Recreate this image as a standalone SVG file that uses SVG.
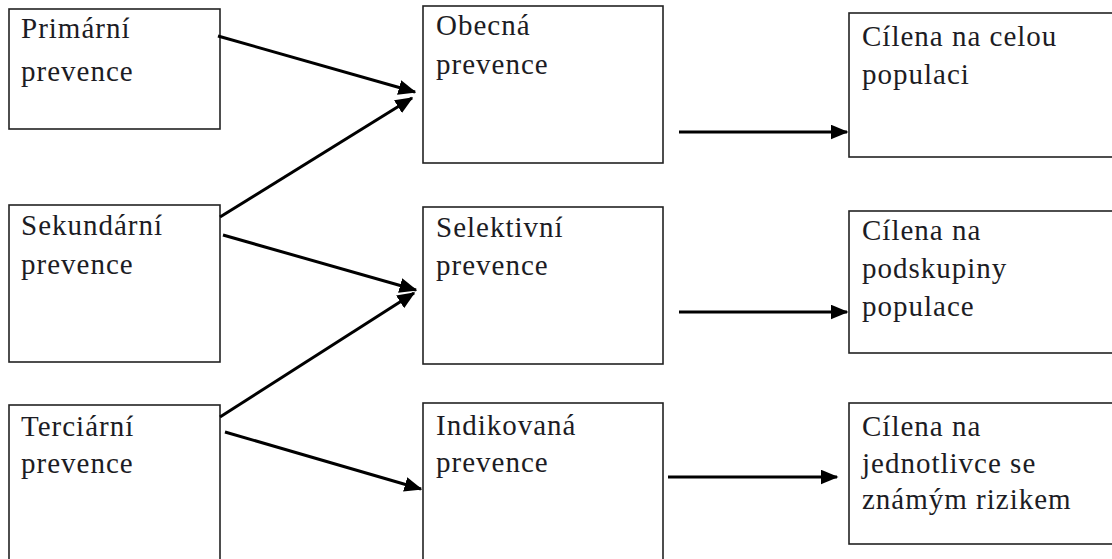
<svg xmlns="http://www.w3.org/2000/svg" width="1112" height="559" viewBox="0 0 1112 559">
<style>
.box{fill:#fff;stroke:#222;stroke-width:1.6}
.t{font-size:29px;fill:#1c1c24;letter-spacing:1px}
.c{stroke:#000;stroke-width:3;fill:none}
</style>
<defs>
<marker id="ah" markerWidth="6" markerHeight="5" refX="5.5" refY="2.5" orient="auto" markerUnits="strokeWidth">
<path d="M0,0 L6,2.5 L0,5 Z" fill="#000"/>
</marker>
</defs>
<rect width="1112" height="559" fill="#fff"/>
<g font-family="Liberation Serif, DejaVu Serif, serif">
<g id="primarni"><rect class="box" x="9" y="9" width="211" height="120"/><text class="t" x="21" y="38">Primární</text><text class="t" x="21" y="81">prevence</text></g>
<g id="sekundarni"><rect class="box" x="9" y="205" width="211" height="157"/><text class="t" x="21" y="235">Sekundární</text><text class="t" x="21" y="274">prevence</text></g>
<g id="terciarni"><rect class="box" x="9" y="405" width="211" height="170"/><text class="t" x="21" y="436">Terciární</text><text class="t" x="21" y="473">prevence</text></g>
<g id="obecna"><rect class="box" x="423" y="6" width="240" height="157"/><text class="t" x="436" y="35">Obecná</text><text class="t" x="436" y="74">prevence</text></g>
<g id="selektivni"><rect class="box" x="423" y="207" width="240" height="157"/><text class="t" x="436" y="237">Selektivní</text><text class="t" x="436" y="275">prevence</text></g>
<g id="indikovana"><rect class="box" x="423" y="403" width="240" height="170"/><text class="t" x="436" y="435">Indikovaná</text><text class="t" x="436" y="472">prevence</text></g>
<g id="cil-celou"><rect class="box" x="849" y="13" width="280" height="144"/><text class="t" x="862" y="46">Cílena na celou</text><text class="t" x="862" y="84">populaci</text></g>
<g id="cil-podskupiny"><rect class="box" x="849" y="211" width="280" height="142"/><text class="t" x="862" y="240">Cílena na</text><text class="t" x="862" y="278">podskupiny</text><text class="t" x="862" y="316">populace</text></g>
<g id="cil-jednotlivce"><rect class="box" x="849" y="403" width="280" height="141"/><text class="t" x="862" y="436">Cílena na</text><text class="t" x="862" y="473">jednotlivce se</text><text class="t" x="862" y="509">známým rizikem</text></g>
</g>
<g id="connectors">
<line class="c" x1="218" y1="36" x2="415" y2="92" marker-end="url(#ah)"/>
<line class="c" x1="220" y1="217" x2="412" y2="98" marker-end="url(#ah)"/>
<line class="c" x1="223" y1="235" x2="416" y2="290" marker-end="url(#ah)"/>
<line class="c" x1="220" y1="417" x2="414" y2="293" marker-end="url(#ah)"/>
<line class="c" x1="225" y1="432" x2="421" y2="489" marker-end="url(#ah)"/>
<line class="c" x1="679" y1="132" x2="847" y2="132" marker-end="url(#ah)"/>
<line class="c" x1="679" y1="312" x2="847" y2="312" marker-end="url(#ah)"/>
<line class="c" x1="668" y1="477" x2="837" y2="477" marker-end="url(#ah)"/>
</g>
</svg>
